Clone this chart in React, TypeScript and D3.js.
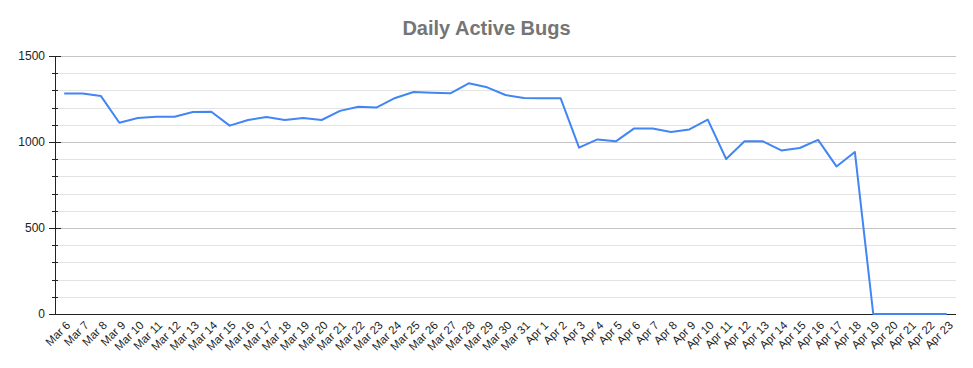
import React, { useEffect, useRef } from "react"
import * as d3 from "d3"

const W = 973
const H = 368
const margin = { top: 56, right: 17, bottom: 54, left: 55 }

const mar_days = d3.range(6, 32).map((d) => "Mar " + d)
const apr_days = d3.range(1, 24).map((d) => "Apr " + d)
const dates = [...mar_days, ...apr_days]

// daily active bug counts
const bugs = [
  1282, 1282, 1267, 1112, 1139, 1147, 1147, 1174, 1176, 1095, 1128, 1145, 1128, 1139, 1128,
  1181, 1205, 1201, 1256, 1291, 1287, 1283, 1341, 1318, 1273, 1256,
  1254, 1254, 967, 1015, 1004, 1079, 1079, 1058, 1073, 1130, 901, 1004, 1004, 951, 965, 1012,
  858, 942, 0, 0, 0, 0, 0,
]

const yTicks = [0, 500, 1000, 1500]

export default function App() {
  const ref = useRef<SVGSVGElement>(null)

  useEffect(() => {
    const svg = d3.select(ref.current)
    svg.selectAll("*").remove()

    const x = d3
      .scaleBand()
      .domain(dates)
      .range([margin.left, W - margin.right])
    const y = d3
      .scaleLinear()
      .domain([0, 1500])
      .range([H - margin.bottom, margin.top])

    const cx = (d: string) => (x(d) as number) + x.bandwidth() / 2

    // title
    svg
      .append("text")
      .attr("x", W / 2)
      .attr("y", 35)
      .attr("text-anchor", "middle")
      .attr("font-family", "Liberation Sans, Arial, sans-serif")
      .attr("font-size", 20)
      .attr("font-weight", "bold")
      .attr("fill", "#757575")
      .text("Daily Active Bugs")

    // gridlines, every 100
    const grid = d3.range(100, 1501, 100)
    svg
      .append("g")
      .selectAll("line")
      .data(grid)
      .join("line")
      .attr("x1", margin.left)
      .attr("x2", W - margin.right)
      .attr("y1", (d) => Math.round(y(d)) + 0.5)
      .attr("y2", (d) => Math.round(y(d)) + 0.5)
      .attr("stroke", (d) => (d % 500 === 0 ? "#c4c4c4" : "#e3e3e3"))
      .attr("stroke-width", 1)

    // y axis line + ticks
    const ax = svg.append("g")
    ax.append("line")
      .attr("x1", margin.left + 0.5)
      .attr("x2", margin.left + 0.5)
      .attr("y1", y(1500))
      .attr("y2", y(0))
      .attr("stroke", "#222")
    ax.selectAll("line.tk")
      .data(d3.range(0, 1501, 100))
      .join("line")
      .attr("class", "tk")
      .attr("x1", (d) => (d % 500 === 0 ? margin.left - 6 : margin.left - 3))
      .attr("x2", (d) => (d % 500 === 0 ? margin.left + 6 : margin.left + 3))
      .attr("y1", (d) => Math.round(y(d)) + 0.5)
      .attr("y2", (d) => Math.round(y(d)) + 0.5)
      .attr("stroke", "#222")
    ax.selectAll("text")
      .data(yTicks)
      .join("text")
      .attr("x", margin.left - 10)
      .attr("y", (d) => y(d))
      .attr("dy", "0.35em")
      .attr("text-anchor", "end")
      .attr("font-family", "Liberation Sans, Arial, sans-serif")
      .attr("font-size", 12)
      .attr("fill", "#222")
      .text((d) => d)

    // x baseline
    svg
      .append("line")
      .attr("x1", margin.left)
      .attr("x2", W - margin.right)
      .attr("y1", Math.round(y(0)) + 0.5)
      .attr("y2", Math.round(y(0)) + 0.5)
      .attr("stroke", "#222")

    // x labels, rotated
    svg
      .append("g")
      .selectAll("text")
      .data(dates)
      .join("text")
      .attr("transform", (d) => `translate(${cx(d) + 4},${y(0) + 9}) rotate(-45)`)
      .attr("text-anchor", "end")
      .attr("dy", "0.35em")
      .attr("font-family", "Liberation Sans, Arial, sans-serif")
      .attr("font-size", 11.5)
      .attr("fill", "#222")
      .text((d) => d)

    // line
    const line = d3
      .line<number>()
      .x((_, i) => cx(dates[i]))
      .y((d) => y(d))
    svg
      .append("path")
      .datum(bugs)
      .attr("d", line)
      .attr("fill", "none")
      .attr("stroke", "#4285f4")
      .attr("stroke-width", 2)
      .attr("stroke-linejoin", "round")
  }, [])

  return (
    <svg
      ref={ref}
      width={W}
      height={H}
      style={{ position: "absolute", left: 0, top: 0, background: "#fff" }}
    ></svg>
  )
}
